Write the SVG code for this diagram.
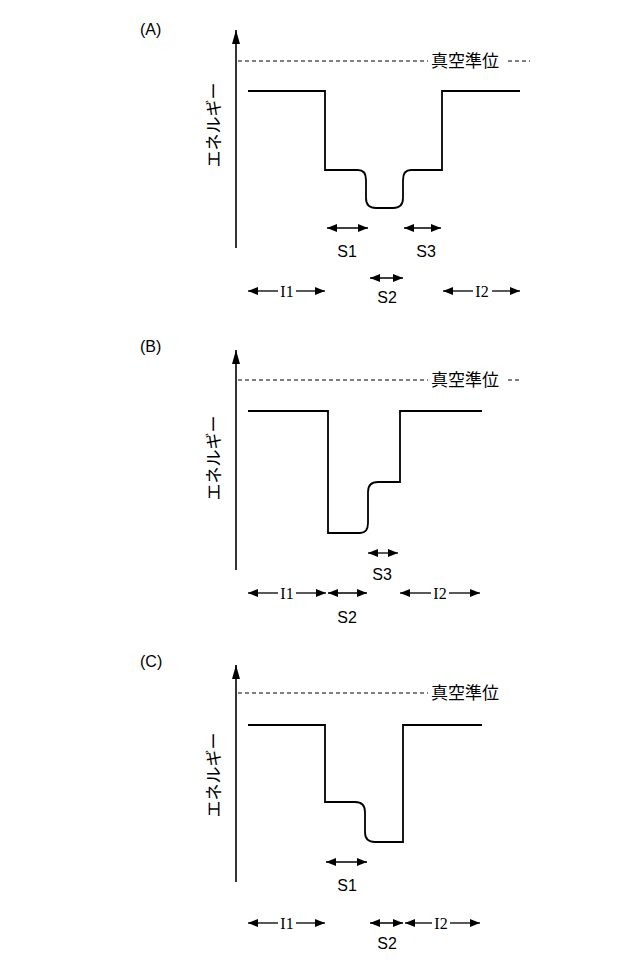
<svg xmlns="http://www.w3.org/2000/svg" width="640" height="965" viewBox="0 0 640 965">
<defs>
<marker id="ah" viewBox="0 0 10 8" refX="10" refY="4" markerWidth="10" markerHeight="8" markerUnits="userSpaceOnUse" orient="auto-start-reverse"><path d="M0,0 L10,4 L0,8 Z" fill="#000"/></marker>
<marker id="ax" viewBox="0 0 8 14" refX="4" refY="0" markerWidth="8" markerHeight="14" markerUnits="userSpaceOnUse" orient="0"><path d="M4,0 L8,14 L0,14 Z" fill="#000"/></marker>
</defs>
<style>
.t{font-family:"Liberation Sans","Noto Sans CJK JP",sans-serif;font-size:16px;fill:#000}
.s{font-family:"Liberation Serif",serif;font-size:16px;fill:#000}
.j{font-family:"Noto Sans CJK JP",sans-serif;font-size:17px;fill:#000}
.l{fill:none;stroke:#000;stroke-width:1.8}
.d{fill:none;stroke:#000;stroke-width:1;stroke-dasharray:4,3}
.a{fill:none;stroke:#000;stroke-width:1.3;marker-start:url(#ah);marker-end:url(#ah)}
.al{fill:none;stroke:#000;stroke-width:1.3;marker-start:url(#ah)}
.ar{fill:none;stroke:#000;stroke-width:1.3;marker-end:url(#ah)}
.axis{fill:none;stroke:#000;stroke-width:1.6}
</style>
<rect width="640" height="965" fill="#fff"/>
<g id="panelA">
<text class="t" x="140" y="35">(A)</text>
<line class="axis" x1="236" y1="248" x2="236" y2="30" marker-end="url(#ax)"/>
<line class="d" x1="238" y1="61" x2="428" y2="61"/><line class="d" x1="508" y1="61" x2="530" y2="61"/>
<text class="j" x="431" y="67">真空準位</text>
<text class="j" transform="translate(220,125) rotate(-90)" text-anchor="middle">エネルギー</text>
<path class="l" d="M248,91 H325 V170 H358 Q366,170 366,180 V198 Q366,208 376,208 H393 Q403,208 403,198 V180 Q403,170 411,170 H442 V91 H520"/>
</g>
<g id="connectorsA">
<line class="a" x1="327" y1="228" x2="368" y2="228"/>
<line class="a" x1="404" y1="228" x2="441" y2="228"/>
<line class="a" x1="370" y1="278" x2="403" y2="278"/>
<line class="al" x1="248" y1="291" x2="278" y2="291"/><line class="ar" x1="296" y1="291" x2="325" y2="291"/>
<line class="al" x1="443" y1="291" x2="473" y2="291"/><line class="ar" x1="492" y1="291" x2="520" y2="291"/>
<text class="t" x="347" y="257" text-anchor="middle">S1</text>
<text class="t" x="426" y="257" text-anchor="middle">S3</text>
<text class="t" x="387" y="303" text-anchor="middle">S2</text>
<text class="s" x="287" y="297" text-anchor="middle">I1</text>
<text class="s" x="482" y="297" text-anchor="middle">I2</text>
</g>
<g id="panelB">
<text class="t" x="140" y="352">(B)</text>
<line class="axis" x1="236" y1="570" x2="236" y2="350" marker-end="url(#ax)"/>
<line class="d" x1="238" y1="380" x2="428" y2="380"/><line class="d" x1="508" y1="380" x2="520" y2="380"/>
<text class="j" x="431" y="386">真空準位</text>
<text class="j" transform="translate(220,458) rotate(-90)" text-anchor="middle">エネルギー</text>
<path class="l" d="M248,411 H328 V533 H360 Q368,533 368,523 V492 Q368,482 378,482 H400 V411 H482"/>
</g>
<g id="connectorsB">
<line class="a" x1="368" y1="553" x2="398" y2="553"/>
<text class="t" x="382" y="580" text-anchor="middle">S3</text>
<line class="al" x1="248" y1="593" x2="278" y2="593"/><line class="ar" x1="296" y1="593" x2="326" y2="593"/>
<text class="s" x="287" y="599" text-anchor="middle">I1</text>
<line class="a" x1="328" y1="593" x2="367" y2="593"/>
<text class="t" x="347" y="623" text-anchor="middle">S2</text>
<line class="al" x1="400" y1="593" x2="431" y2="593"/><line class="ar" x1="449" y1="593" x2="480" y2="593"/>
<text class="s" x="440" y="599" text-anchor="middle">I2</text>
</g>
<g id="panelC">
<text class="t" x="140" y="667">(C)</text>
<line class="axis" x1="236" y1="882" x2="236" y2="665" marker-end="url(#ax)"/>
<line class="d" x1="238" y1="693" x2="428" y2="693"/>
<text class="j" x="431" y="699">真空準位</text>
<text class="j" transform="translate(220,775) rotate(-90)" text-anchor="middle">エネルギー</text>
<path class="l" d="M248,725 H325 V802 H355 Q365,802 365,812 V832 Q365,842 375,842 H403 V725 H482"/>
</g>
<g id="connectorsC">
<line class="a" x1="326" y1="862" x2="367" y2="862"/>
<text class="t" x="347" y="891" text-anchor="middle">S1</text>
<line class="al" x1="248" y1="923" x2="278" y2="923"/><line class="ar" x1="296" y1="923" x2="325" y2="923"/>
<text class="s" x="287" y="929" text-anchor="middle">I1</text>
<line class="a" x1="370" y1="923" x2="403" y2="923"/>
<text class="t" x="387" y="949" text-anchor="middle">S2</text>
<line class="al" x1="405" y1="923" x2="432" y2="923"/><line class="ar" x1="450" y1="923" x2="480" y2="923"/>
<text class="s" x="441" y="929" text-anchor="middle">I2</text>
</g>
</svg>
